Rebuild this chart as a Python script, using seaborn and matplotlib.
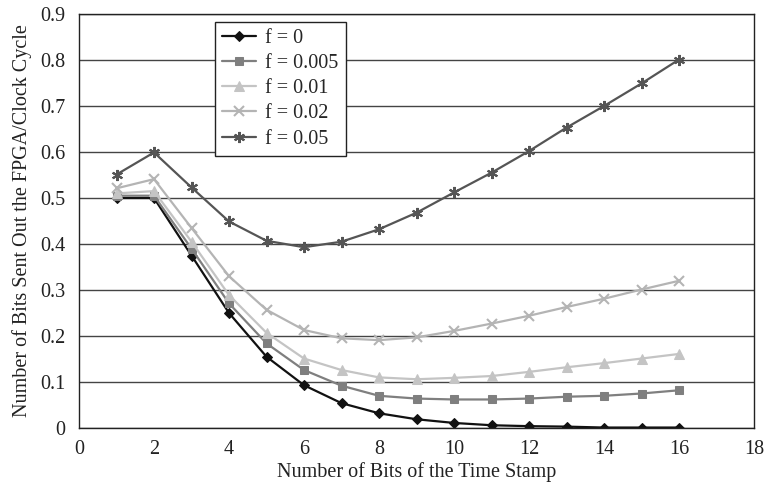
import matplotlib
matplotlib.use("Agg")
import matplotlib.pyplot as plt
import seaborn as sns
import pandas as pd

# Number of time-stamp bits
bits = list(range(1, 17))

# Bits sent out of the FPGA per clock cycle, one list per f
f_0 = [0.50, 0.50, 0.375, 0.25, 0.155, 0.093, 0.054, 0.032, 0.019, 0.011,
       0.006, 0.004, 0.003, 0.001, 0.001, 0.001]
f_0005 = [0.505, 0.505, 0.39, 0.271, 0.184, 0.126, 0.092, 0.070, 0.064, 0.062,
          0.062, 0.064, 0.068, 0.070, 0.075, 0.082]
f_001 = [0.51, 0.515, 0.405, 0.289, 0.207, 0.151, 0.126, 0.110, 0.106, 0.109,
         0.113, 0.122, 0.132, 0.141, 0.151, 0.161]
f_002 = [0.521, 0.541, 0.435, 0.330, 0.257, 0.213, 0.195, 0.191, 0.197, 0.211,
         0.227, 0.244, 0.263, 0.281, 0.301, 0.320]
f_005 = [0.551, 0.599, 0.523, 0.449, 0.407, 0.393, 0.405, 0.432, 0.468, 0.512,
         0.555, 0.602, 0.653, 0.700, 0.749, 0.801]

series_labels = ["f = 0", "f = 0.005", "f = 0.01", "f = 0.02", "f = 0.05"]
series_values = [f_0, f_0005, f_001, f_002, f_005]

x_ticks = list(range(0, 19, 2))
y_ticks = [round(0.1 * i, 1) for i in range(10)]

sns.set_style("white")
plt.rcParams["font.family"] = ["Liberation Serif", "DejaVu Serif"]
FS = 14.5

styles = [
    dict(color="#111111", marker="D", markersize=5),
    dict(color="#7f7f7f", marker="s", markersize=6),
    dict(color="#c4c4c4", marker="^", markersize=7),
    dict(color="#b4b4b4", marker="x", markersize=7, markeredgewidth=1.5),
    dict(color="#555555", marker=(6, 2, 0), markersize=8, markeredgewidth=1.5),
]

fig = plt.figure(figsize=(7.67, 4.91), dpi=100)
ax = fig.add_axes([79 / 767, 1 - 428 / 491, 675 / 767, 414 / 491])

for label, vals, st in zip(series_labels, series_values, styles):
    df = pd.DataFrame({"bits": bits, "value": vals})
    sns.lineplot(data=df, x="bits", y="value", ax=ax, label=label,
                 linewidth=1.6, markeredgecolor=st["color"], **st)

ax.set_xlim(0, 18)
ax.set_ylim(0, 0.9)
ax.set_xticks(x_ticks)
ax.set_yticks(y_ticks)
ax.set_xticklabels([str(t) for t in x_ticks])
ax.set_yticklabels(["0"] + [f"{t:.1f}" for t in y_ticks[1:]])
ax.yaxis.grid(True, color="#444444", linewidth=1.0)
ax.xaxis.grid(False)
ax.set_axisbelow(True)

for sp in ax.spines.values():
    sp.set_color("#222222")
    sp.set_linewidth(1.0)

ax.tick_params(axis="x", direction="in", length=6, width=1, colors="#222222",
               labelsize=FS, labelcolor="#222222", pad=9)
ax.tick_params(axis="y", direction="inout", length=8, width=1, colors="#222222",
               labelsize=FS, labelcolor="#222222", pad=6)

ax.set_xlabel("Number of Bits of the Time Stamp", fontsize=FS, color="#222222",
              labelpad=2)
ax.set_ylabel("Number of Bits Sent Out the FPGA/Clock Cycle", fontsize=FS,
              color="#222222", labelpad=6)

leg = ax.legend(loc="upper left", bbox_to_anchor=(0.2015, 0.981),
                borderaxespad=0, fontsize=FS, frameon=True, fancybox=False,
                handlelength=1.7, handletextpad=0.45, labelspacing=0.3,
                borderpad=0.35)
leg.get_frame().set_edgecolor("#222222")
leg.get_frame().set_linewidth(1.0)
leg.get_frame().set_alpha(1)

fig.savefig("out.png", dpi=100)
